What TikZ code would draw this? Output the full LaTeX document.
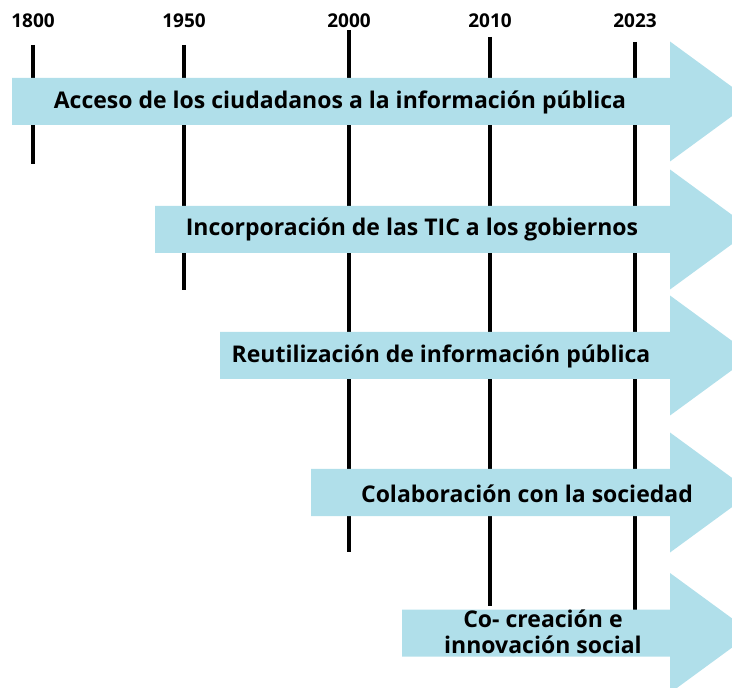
\documentclass[tikz,border=0pt]{standalone}
\usepackage{fontspec}
\setmainfont{Open Sans}
\definecolor{bandblue}{RGB}{176,223,234}
\begin{document}
\begin{tikzpicture}
    [
    x=0.5pt, y=-0.5pt,
    year/.style={font=\bfseries\fontsize{9.5}{11}\selectfont, inner sep=0pt},
    tick/.style={line width=1.6pt, black},
    band/.style={fill=bandblue},
    stage/.style={font=\bfseries\fontsize{11.5}{13}\selectfont, align=center, inner sep=0pt}
    ]
    \useasboundingbox (0,0) rectangle (732,688);
    % year lines (behind the arrows)
    \foreach \yr/\x/\top/\bot in {1800/33/45/164, 1950/184/45/290, 2000/349/30/552, 2010/490/37/606, 2023/635/42/612}
    {
      \node (y\yr) at (\x,21) [year] {\yr};
      \draw [tick] (\x,\top) -- (\x,\bot);
    }
    % arrows
    \foreach \x/\m in {12/101.5, 155/229.5, 220/355.5, 311/492.5, 402/633}
      \fill [band] (\x,\m-23.5) -- (670,\m-23.5) -- (670,\m-60) -- (752,\m)
        -- (670,\m+60) -- (670,\m+23.5) -- (\x,\m+23.5) -- cycle;
    \node (acceso) at (340,102) [stage] {Acceso de los ciudadanos a la información pública};
    \node (tic) at (412,229) [stage] {Incorporación de las TIC a los gobiernos};
    \node (reuso) at (441,356) [stage] {Reutilización de información pública};
    \node (colab) at (527,494) [stage] {Colaboración con la sociedad};
    \node (cocrea) at (543,632) [stage] {Co- creación e\\innovación social};
  \end{tikzpicture}
\end{document}
